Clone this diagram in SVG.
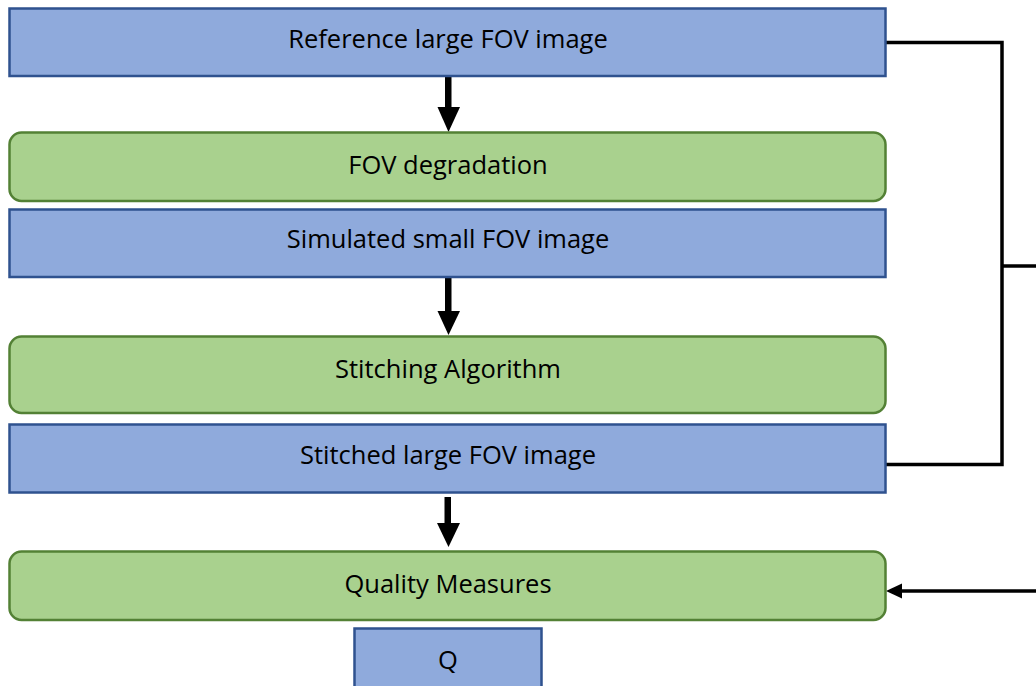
<svg xmlns="http://www.w3.org/2000/svg" width="1036" height="686" viewBox="0 0 1036 686">
<style>
.blue{fill:#8faadc;stroke:#2f528f;stroke-width:2.5}
.green{fill:#a9d18e;stroke:#538135;stroke-width:2.5}
.lbl{font-family:"Open Sans","Liberation Sans",sans-serif;font-size:25.5px;fill:#000;text-anchor:middle}
.conn{fill:none;stroke:#000;stroke-width:3.5}
</style>
<rect width="1036" height="686" fill="#fff"/>
<g id="connectors">
<path class="conn" d="M886,42.5 H1002 V464.5 H886"/>
<path class="conn" d="M1002,266 H1036"/>
<path class="conn" d="M1036,591 H902"/>
<polygon points="886,591 902,583.5 902,598.5" fill="#000"/>
<g fill="#000">
<rect x="445" y="76" width="6.5" height="32"/>
<polygon points="437.5,107 460,107 448.5,132"/>
<rect x="445" y="278" width="6.5" height="34"/>
<polygon points="437.5,311 460,311 448.5,335"/>
<rect x="444.5" y="497" width="6.5" height="27"/>
<polygon points="437,523 460,523 448.5,547"/>
</g>
</g>
<g id="n1"><rect class="blue" x="9.5" y="8.5" width="876" height="67.5"/><text class="lbl" x="448" y="47.5">Reference large FOV image</text></g>
<g id="n2"><rect class="green" x="9.5" y="132.5" width="876" height="68.5" rx="12"/><text class="lbl" x="448" y="174">FOV degradation</text></g>
<g id="n3"><rect class="blue" x="9.5" y="209.5" width="876" height="67.5"/><text class="lbl" x="448" y="248">Simulated small FOV image</text></g>
<g id="n4"><rect class="green" x="9.5" y="336.5" width="876" height="76.5" rx="12"/><text class="lbl" x="448" y="378">Stitching Algorithm</text></g>
<g id="n5"><rect class="blue" x="9.5" y="424.5" width="876" height="68"/><text class="lbl" x="448" y="464">Stitched large FOV image</text></g>
<g id="n6"><rect class="green" x="9.5" y="551.5" width="876" height="68.5" rx="12"/><text class="lbl" x="448" y="593">Quality Measures</text></g>
<g id="n7"><rect class="blue" x="354.5" y="628.5" width="187" height="62"/><text class="lbl" x="448" y="669">Q</text></g>
</svg>
